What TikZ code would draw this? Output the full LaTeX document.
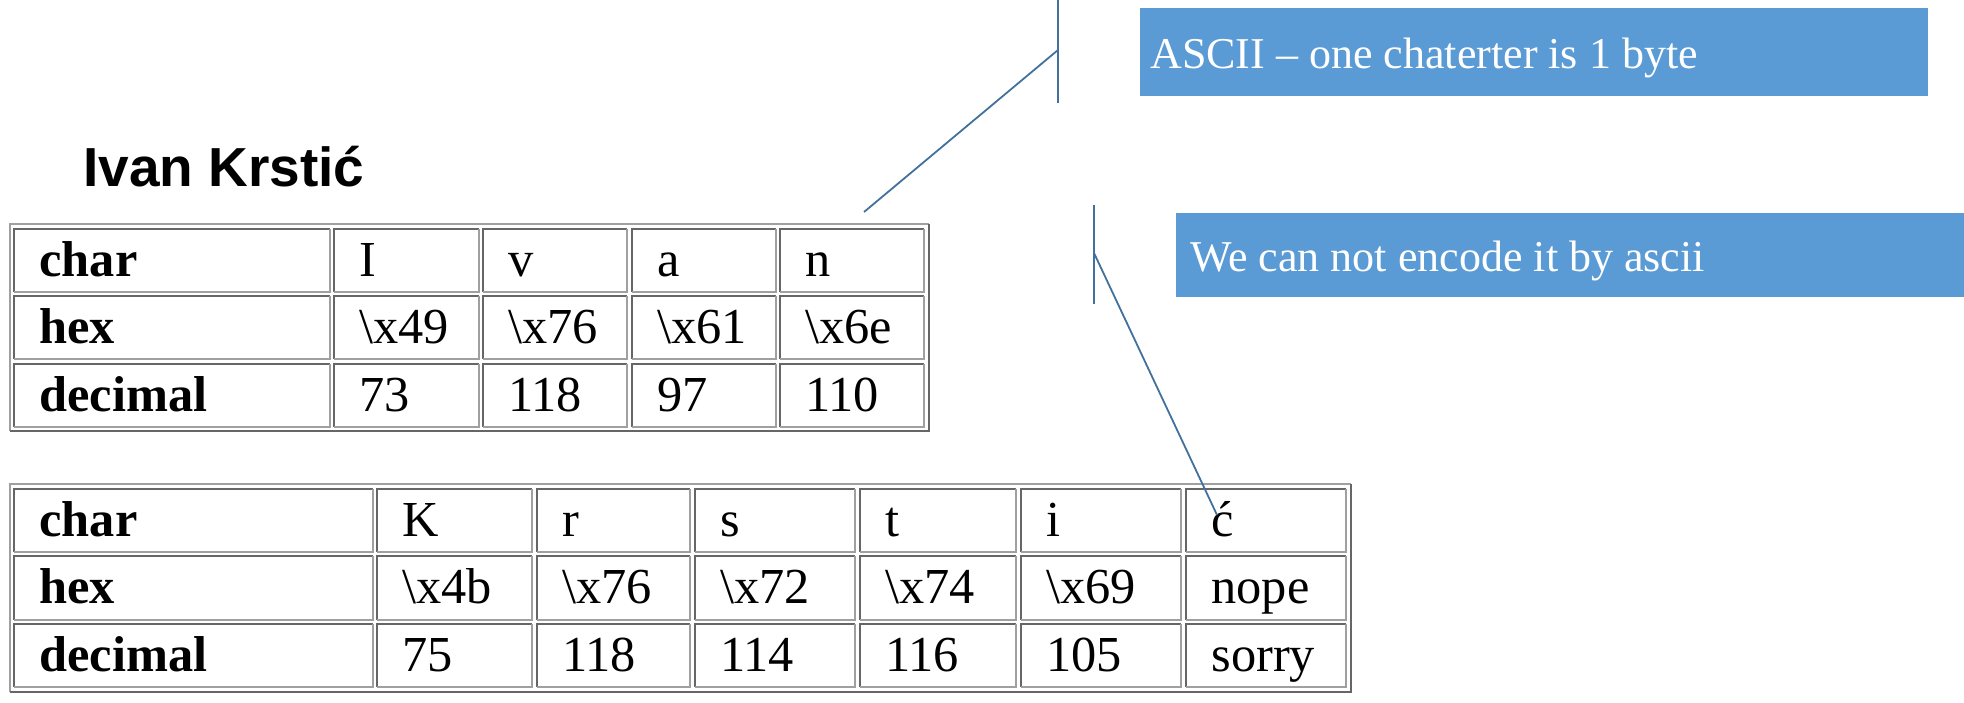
\documentclass[tikz,border=0pt]{standalone}
\usepackage{fontspec}
\setmainfont{Liberation Serif}
\newfontfamily\titlefont{Liberation Sans}
\definecolor{bdark}{HTML}{666666}
\definecolor{blight}{HTML}{A0A0A0}
\definecolor{boxblue}{HTML}{5B9BD5}
\definecolor{calline}{HTML}{41719C}
\tikzset{
  cellbox/.style={inner sep=0pt, outer sep=0pt, anchor=north west},
  hdr/.style={font=\bfseries\fontsize{25.2}{29}\selectfont, anchor=base west, inner sep=0pt},
  val/.style={font=\fontsize{25.2}{29}\selectfont, anchor=base west, inner sep=0pt},
  darkb/.style={draw=bdark, line width=0.8pt},
  lightb/.style={draw=blight, line width=0.8pt},
  bluebox/.style={fill=boxblue, inner sep=0pt, outer sep=0pt, anchor=north west},
  boxtext/.style={font=\fontsize{22}{26}\selectfont, text=white, anchor=base west, inner sep=0pt},
  titletext/.style={font=\titlefont\bfseries\fontsize{27.5}{32}\selectfont, anchor=base west, inner sep=0pt},
  callout/.style={draw=calline, line width=0.9pt},
}
\newcommand\tcell[7]{%
  \node[cellbox, minimum width={(#4-#2)*0.5pt}, minimum height={(#5-#3)*0.5pt}] (#1) at (#2,#3) {};
  \draw[darkb] (#1.south west) -- (#1.north west) -- (#1.north east);
  \draw[lightb] (#1.north east) -- (#1.south east) -- (#1.south west);
  \node[#6] (#1t) at ([shift={(25,47)}]#1.north west) {#7};
}
\newcommand\tframe[5]{%
  \node[cellbox, minimum width={(#4-#2)*0.5pt}, minimum height={(#5-#3)*0.5pt}] (#1) at (#2,#3) {};
  \draw[lightb] (#1.south west) -- (#1.north west) -- (#1.north east);
  \draw[darkb] (#1.north east) -- (#1.south east) -- (#1.south west);
}
\begin{document}
\begin{tikzpicture}[x=0.5pt, y=-0.5pt]
\useasboundingbox (0,0) rectangle (1964,702);

% title
\node[titletext] (title) at (83,186) {Ivan Krstić};

% table 1
\tframe{ta}{10}{224}{929}{431}
\tcell{a00}{14}{229}{330}{292}{hdr}{char}
\tcell{a01}{334}{229}{479}{292}{val}{I}
\tcell{a02}{483}{229}{627}{292}{val}{v}
\tcell{a03}{632}{229}{776}{292}{val}{a}
\tcell{a04}{780}{229}{924}{292}{val}{n}
\tcell{a10}{14}{296}{330}{359}{hdr}{hex}
\tcell{a11}{334}{296}{479}{359}{val}{\textbackslash x49}
\tcell{a12}{483}{296}{627}{359}{val}{\textbackslash x76}
\tcell{a13}{632}{296}{776}{359}{val}{\textbackslash x61}
\tcell{a14}{780}{296}{924}{359}{val}{\textbackslash x6e}
\tcell{a20}{14}{364}{330}{427}{hdr}{decimal}
\tcell{a21}{334}{364}{479}{427}{val}{73}
\tcell{a22}{483}{364}{627}{427}{val}{118}
\tcell{a23}{632}{364}{776}{427}{val}{97}
\tcell{a24}{780}{364}{924}{427}{val}{110}

% table 2
\tframe{tb}{10}{484}{1351}{692}
\tcell{b00}{14}{489}{373}{552}{hdr}{char}
\tcell{b01}{377}{489}{532}{552}{val}{K}
\tcell{b02}{537}{489}{690}{552}{val}{r}
\tcell{b03}{695}{489}{855}{552}{val}{s}
\tcell{b04}{860}{489}{1016}{552}{val}{t}
\tcell{b05}{1021}{489}{1181}{552}{val}{i}
\tcell{b06}{1186}{489}{1346}{552}{val}{ć}
\tcell{b10}{14}{556}{373}{620}{hdr}{hex}
\tcell{b11}{377}{556}{532}{620}{val}{\textbackslash x4b}
\tcell{b12}{537}{556}{690}{620}{val}{\textbackslash x76}
\tcell{b13}{695}{556}{855}{620}{val}{\textbackslash x72}
\tcell{b14}{860}{556}{1016}{620}{val}{\textbackslash x74}
\tcell{b15}{1021}{556}{1181}{620}{val}{\textbackslash x69}
\tcell{b16}{1186}{556}{1346}{620}{val}{nope}
\tcell{b20}{14}{624}{373}{687}{hdr}{decimal}
\tcell{b21}{377}{624}{532}{687}{val}{75}
\tcell{b22}{537}{624}{690}{687}{val}{118}
\tcell{b23}{695}{624}{855}{687}{val}{114}
\tcell{b24}{860}{624}{1016}{687}{val}{116}
\tcell{b25}{1021}{624}{1181}{687}{val}{105}
\tcell{b26}{1186}{624}{1346}{687}{val}{sorry}

% callout boxes
\node[bluebox, minimum width={(1928-1140)*0.5pt}, minimum height={(96-8)*0.5pt}] (box1) at (1140,8) {};
\node[boxtext] (box1t) at (1150,68) {ASCII – one chaterter is 1 byte};
\node[bluebox, minimum width={(1964-1176)*0.5pt}, minimum height={(297-213)*0.5pt}] (box2) at (1176,213) {};
\node[boxtext] (box2t) at (1190,271) {We can not encode it by ascii};

% callout lines
\coordinate (bar1top) at (1058,0);
\coordinate (bar1mid) at (1058,50);
\coordinate (bar1bot) at (1058,103);
\coordinate (lead1end) at (864,212);
\coordinate (bar2top) at (1094,205);
\coordinate (bar2mid) at (1094,253);
\coordinate (bar2bot) at (1094,304);
\coordinate (lead2end) at (1217,515);
\draw[callout] (bar1top) -- (bar1bot);
\draw[callout] (bar1mid) -- (lead1end);
\draw[callout] (bar2top) -- (bar2bot);
\draw[callout] (bar2mid) -- (lead2end);
\end{tikzpicture}
\end{document}
